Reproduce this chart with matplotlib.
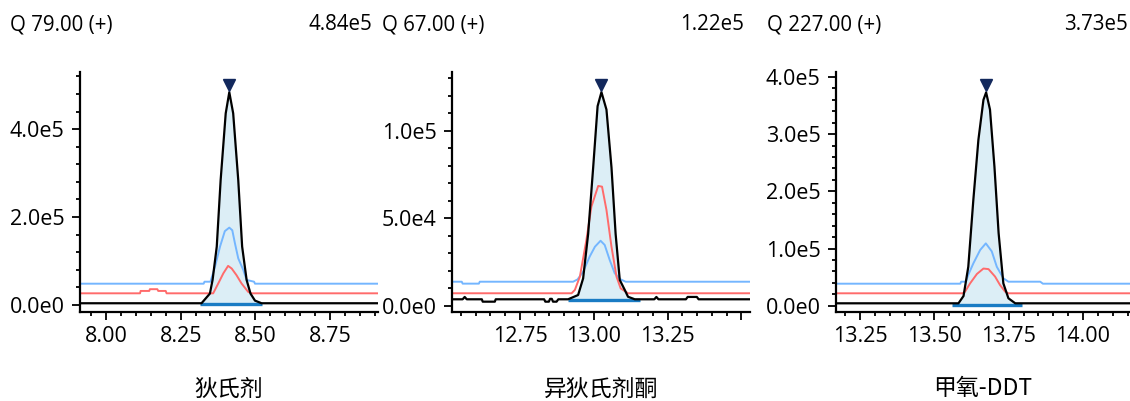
import matplotlib
matplotlib.use('Agg')
import matplotlib.pyplot as plt
import matplotlib.transforms as mtrans
from matplotlib.ticker import MultipleLocator, FuncFormatter
import numpy as np

plt.rcParams['font.family'] = ['Open Sans', 'DejaVu Sans']

# ---- data ----
names = ['狄氏剂', '异狄氏剂酮', '甲氧-DDT']
headers = ['Q 79.00 (+)', 'Q 67.00 (+)', 'Q 227.00 (+)']
peak_heights = ['4.84e5', '1.22e5', '3.73e5']

# panel 1
p1_black_t = [7.913, 8.320, 8.348, 8.357, 8.371, 8.384, 8.401, 8.413, 8.426, 8.443, 8.456, 8.471, 8.484, 8.499, 8.521, 8.911]
p1_black_y = [4e3, 4e3, 2.6e4, 5.7e4, 1.33e5, 2.84e5, 4.36e5, 4.84e5, 4.36e5, 2.84e5, 1.33e5, 5.7e4, 2.6e4, 1.0e4, 4e3, 4e3]
p1_blue_t = [7.913, 8.327, 8.330, 8.350, 8.365, 8.382, 8.398, 8.413, 8.423, 8.432, 8.443, 8.460, 8.471, 8.496, 8.499, 8.911]
p1_blue_y = [4.85e4, 4.85e4, 5.3e4, 5.3e4, 8.7e4, 1.33e5, 1.68e5, 1.76e5, 1.70e5, 1.40e5, 1.06e5, 7.95e4, 5.7e4, 5.3e4, 4.85e4, 4.85e4]
p1_red_t = [7.913, 8.114, 8.116, 8.145, 8.147, 8.172, 8.175, 8.200, 8.203, 8.359, 8.376, 8.393, 8.409, 8.421, 8.437, 8.454, 8.476, 8.488, 8.911]
p1_red_y = [2.66e4, 2.66e4, 3.2e4, 3.2e4, 3.6e4, 3.6e4, 3.2e4, 3.2e4, 2.66e4, 2.66e4, 4.9e4, 7.2e4, 8.9e4, 8.3e4, 6.8e4, 4.9e4, 3.0e4, 2.66e4, 2.66e4]
p1_integ = (8.315, 8.524, 2e3)
p1_apex = (8.413, 4.84e5)

# panel 2
p2_black_t = [12.519, 12.556, 12.563, 12.570, 12.621, 12.624, 12.665, 12.668, 12.832, 12.836, 12.848, 12.852, 12.858,
              12.862, 12.874, 12.880, 12.913, 12.947, 12.964, 12.981, 12.998, 13.013, 13.026, 13.043, 13.060, 13.074,
              13.088, 13.105, 13.116, 13.139, 13.205, 13.212, 13.219, 13.312, 13.318, 13.349, 13.355, 13.529]
p2_black_y = [3.66e3, 3.66e3, 5.0e3, 3.66e3, 3.66e3, 2.3e3, 2.3e3, 3.66e3, 3.66e3, 2.3e3, 2.3e3, 3.9e3, 3.9e3,
              2.3e3, 2.3e3, 3.66e3, 3.66e3, 6.1e3, 1.56e4, 4.1e4, 7.9e4, 1.14e5, 1.22e5, 1.12e5, 7.9e4, 4.1e4,
              1.47e4, 9e3, 5.1e3, 3.66e3, 3.66e3, 5.0e3, 3.66e3, 3.66e3, 5.0e3, 5.0e3, 3.66e3, 3.66e3]
p2_blue_t = [12.519, 12.553, 12.556, 12.611, 12.614, 12.930, 12.945, 12.964, 12.986, 13.004, 13.023, 13.037, 13.054, 13.071, 13.091, 13.108, 13.529]
p2_blue_y = [1.37e4, 1.37e4, 1.26e4, 1.26e4, 1.37e4, 1.37e4, 1.5e4, 1.94e4, 2.8e4, 3.37e4, 3.71e4, 3.47e4, 2.61e4, 1.85e4, 1.5e4, 1.37e4, 1.37e4]
p2_red_t = [12.519, 12.925, 12.936, 12.953, 12.975, 12.992, 13.015, 13.028, 13.043, 13.060, 13.077, 13.091, 13.116, 13.529]
p2_red_y = [7.1e3, 7.1e3, 9.0e3, 1.66e4, 3.75e4, 5.66e4, 6.84e4, 6.8e4, 5.47e4, 3.37e4, 1.66e4, 9.9e3, 7.1e3, 7.1e3]
p2_integ = (12.913, 13.156, 3.3e3)
p2_apex = (13.026, 1.22e5)

# panel 3
p3_black_t = [13.169, 13.581, 13.598, 13.614, 13.631, 13.648, 13.665, 13.674, 13.687, 13.702, 13.716, 13.732, 13.749, 13.772, 14.158]
p3_black_y = [4.2e3, 4.2e3, 1.7e4, 6.8e4, 1.85e5, 2.9e5, 3.6e5, 3.73e5, 3.43e5, 2.43e5, 1.27e5, 3.9e4, 1.3e4, 4.2e3, 4.2e3]
p3_blue_t = [13.169, 13.587, 13.590, 13.606, 13.614, 13.631, 13.654, 13.673, 13.693, 13.710, 13.732, 13.749, 13.856, 13.865, 14.158]
p3_blue_y = [3.85e4, 3.85e4, 4.2e4, 4.2e4, 5.4e4, 7.4e4, 9.75e4, 1.09e5, 9.5e4, 6.8e4, 4.8e4, 4.2e4, 4.2e4, 3.85e4, 3.85e4]
p3_red_t = [13.169, 13.595, 13.603, 13.620, 13.643, 13.665, 13.682, 13.704, 13.721, 13.738, 13.749, 14.158]
p3_red_y = [2.17e4, 2.17e4, 2.45e4, 3.9e4, 5.55e4, 6.5e4, 6.4e4, 5.1e4, 3.6e4, 2.45e4, 2.17e4, 2.17e4]
p3_integ = (13.559, 13.794, 2e3)
p3_apex = (13.674, 3.73e5)

xlims = [(7.913, 8.911), (12.52, 13.529), (13.169, 14.158)]
ylims = [(-1.59e4, 5.30e5), (-3.6e3, 1.335e5), (-1.1e4, 4.087e5)]
xticks = [[8.00, 8.25, 8.50, 8.75], [12.75, 13.00, 13.25, 13.50], [13.25, 13.50, 13.75, 14.00]]
xticklabels = [['8.00', '8.25', '8.50', '8.75'], ['12.75', '13.00', '13.25', ''], ['13.25', '13.50', '13.75', '14.00']]
ymajor = [2e5, 5e4, 1e5]
yminor = [4e4, 1e4, 2e4]

panels = [
    (p1_black_t, p1_black_y, p1_blue_t, p1_blue_y, p1_red_t, p1_red_y, p1_integ, p1_apex),
    (p2_black_t, p2_black_y, p2_blue_t, p2_blue_y, p2_red_t, p2_red_y, p2_integ, p2_apex),
    (p3_black_t, p3_black_y, p3_blue_t, p3_blue_y, p3_red_t, p3_red_y, p3_integ, p3_apex),
]

W, H = 1130, 401
fig = plt.figure(figsize=(W / 100, H / 100), dpi=100)

# axes boxes in pixels: left, right, top, bottom
boxes = [(80, 378, 72, 312), (452, 750, 72, 312), (836, 1130, 72, 312)]
header_x = [(10, 372), (382, 744), (767, 1128)]


def sci(v, pos):
    if abs(v) < 1e-9:
        return '0.0e0'
    e = int(np.floor(np.log10(abs(v))))
    return f'{v / 10 ** e:.1f}e{e}'


for i, (bt, by, ut, uy, rt, ry, integ, apex) in enumerate(panels):
    l, r, t, b = boxes[i]
    ax = fig.add_axes([l / W, (H - b) / H, (r - l) / W, (b - t) / H])

    bt = np.array(bt)
    by = np.array(by)
    s, e, base = integ
    m = (bt >= s) & (bt <= e)
    ax.fill_between(np.r_[s, bt[m], e], np.r_[base, by[m], base], base,
                    color='#dceef6', lw=0, zorder=1)
    ax.plot(ut, uy, color='#74b6ff', lw=1.4, zorder=2)
    ax.plot(rt, ry, color='#ff6b6b', lw=1.4, zorder=2)
    ax.plot([s, e], [base, base], color='#1a7cc4', lw=2.4, zorder=3, solid_capstyle='butt')
    ax.plot(bt, by, color='black', lw=1.6, zorder=4)
    off = mtrans.offset_copy(ax.transData, fig=fig, x=0, y=7, units='dots')
    ax.plot([apex[0]], [apex[1]], marker='v', ms=8, color='#12285c', transform=off, zorder=5, clip_on=False)

    ax.set_xlim(*xlims[i])
    ax.set_ylim(*ylims[i])
    ax.set_xticks(xticks[i])
    ax.set_xticklabels(xticklabels[i])
    ax.xaxis.set_minor_locator(MultipleLocator(0.05))
    ax.yaxis.set_major_locator(MultipleLocator(ymajor[i]))
    ax.yaxis.set_minor_locator(MultipleLocator(yminor[i]))
    ax.yaxis.set_major_formatter(FuncFormatter(sci))

    for sp in ['top', 'right']:
        ax.spines[sp].set_visible(False)
    for sp in ['left', 'bottom']:
        ax.spines[sp].set_linewidth(1.6)
    ax.tick_params(which='major', length=6, width=1.3, labelsize=15.5, pad=5)
    ax.tick_params(which='minor', length=3, width=1.3)
    ax.tick_params(axis='x', which='major', pad=4)

    ax.set_xlabel(names[i], fontsize=16.5, labelpad=22, family=['Noto Sans CJK SC', 'DejaVu Sans'])

    fig.text(header_x[i][0] / W, 1 - 25 / H, headers[i], fontsize=14.8, ha='left', va='center')
    fig.text(header_x[i][1] / W, 1 - 25 / H, peak_heights[i], fontsize=14.8, ha='right', va='center')

fig.savefig('out.png', dpi=100)
